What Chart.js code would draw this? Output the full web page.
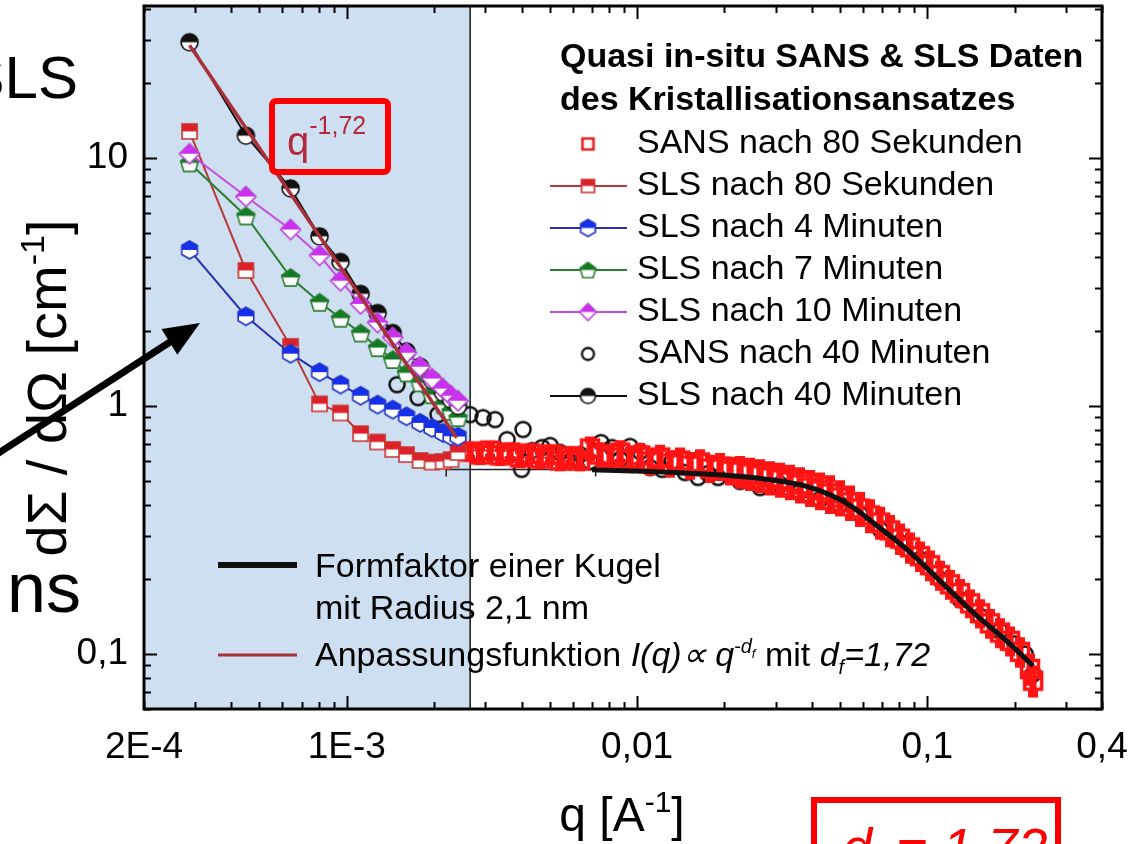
<!DOCTYPE html>
<html>
<head>
<meta charset="utf-8">
<script src="https://cdn.jsdelivr.net/npm/chart.js@4.4.1/dist/chart.umd.min.js"></script>
<style>
  html, body { margin: 0; padding: 0; background: #fff; }
  body { width: 1137px; height: 844px; overflow: hidden; position: relative; }
  #c { position: absolute; left: 0; top: 0; }
  #ov { position: absolute; left: 0; top: 0; pointer-events: none; }
</style>
</head>
<body>
<canvas id="c" width="1137" height="844"></canvas>
<svg id="ov" width="1137" height="844" font-family="Liberation Sans, Arial, sans-serif">
  <!-- slide text around the figure -->
  <text x="78" y="98" font-size="60" text-anchor="end">SLS</text>
  <text x="81" y="612" font-size="70" text-anchor="end">ns</text>
  <!-- arrow pointing into the SLS range -->
  <line x1="-6" y1="456" x2="170" y2="342" stroke="#000" stroke-width="7"/>
  <polygon points="200,323 161.5,329.1 177.3,354.7" fill="#000"/>
  <!-- axis titles -->
  <text transform="translate(66,388) rotate(-90)" text-anchor="middle" font-size="56">dΣ / dΩ [cm<tspan font-size="34" dy="-22">-1</tspan><tspan dy="22">]</tspan></text>
  <text x="622" y="831" text-anchor="middle" font-size="48">q [A<tspan font-size="30" dy="-19">-1</tspan><tspan dy="19">]</tspan></text>
  <!-- slope annotation -->
  <rect x="272" y="101" width="116" height="71" rx="4" fill="none" stroke="#ff0000" stroke-width="6"/>
  <text x="287" y="155" font-size="40" fill="#b3283a">q<tspan font-size="25" dy="-21">-1,72</tspan></text>
  <!-- fractal dimension box -->
  <rect x="814" y="800" width="244" height="80" fill="none" stroke="#ff0000" stroke-width="6"/>
  <text x="842" y="866" font-size="54" font-style="italic" fill="#ff0000">d<tspan font-size="32" dy="10">f</tspan><tspan dy="-10"> = 1,72</tspan></text>
  <!-- lower legend texts -->
  <g font-size="34">
    <text x="315" y="577">Formfaktor einer Kugel</text>
    <text x="315" y="619">mit Radius 2,1 nm</text>
    <text x="315" y="666">Anpassungsfunktion <tspan font-style="italic">I(q)</tspan><tspan font-style="italic">∝</tspan> <tspan font-style="italic">q</tspan><tspan font-style="italic" font-size="20" dy="-13">-d</tspan><tspan font-style="italic" font-size="13" dy="5">f</tspan><tspan dy="8"> mit </tspan><tspan font-style="italic">d</tspan><tspan font-style="italic" font-size="20" dy="8">f</tspan><tspan font-style="italic" dy="-8">=1,72</tspan></text>
  </g>
</svg>
<script>
// ---------------- data ----------------
// SLS scattering vectors (1/A) shared by all SLS runs
const slsQ = [2.87e-4, 4.49e-4, 6.40e-4, 8.05e-4, 9.51e-4, 1.115e-3, 1.276e-3, 1.439e-3, 1.606e-3, 1.788e-3, 1.966e-3, 2.145e-3, 2.286e-3, 2.416e-3];
const sls80s   = [12.8, 3.52, 1.74, 1.02, 0.937, 0.774, 0.716, 0.668, 0.637, 0.603, 0.594, 0.597, 0.608, 0.649];
const sls4min  = [4.26, 2.30, 1.625, 1.369, 1.22, 1.10, 1.013, 0.967, 0.909, 0.855, 0.816, 0.779, 0.755, 0.753];
const sls7min  = [9.55, 5.84, 3.30, 2.62, 2.26, 1.97, 1.72, 1.54, 1.36, 1.24, 1.11, 1.01, 0.952, 0.898];
const sls10min = [10.4, 6.99, 5.15, 4.05, 3.20, 2.58, 2.17, 1.89, 1.64, 1.44, 1.29, 1.175, 1.10, 1.05];
const sls40min = [29.3, 12.3, 7.54, 4.83, 3.81, 2.83, 2.37, 1.97, 1.66, 1.44, 1.27, 1.13, 1.06, 1.00];

// SANS after 80 s
const sans80Q = [2.658e-3, 2.877e-3, 3.115e-3, 3.373e-3, 3.651e-3, 3.953e-3, 4.280e-3, 4.633e-3, 5.016e-3, 5.429e-3,
  5.877e-3, 6.362e-3, 6.887e-3, 7.456e-3, 8.071e-3, 8.738e-3, 9.459e-3, 0.01024, 0.01109, 0.01200,
  0.01299, 0.01406, 0.01523, 0.01648, 0.01784, 0.01932, 0.02091, 0.02264, 0.02451, 0.02653,
  0.02872, 0.03109, 0.03366, 0.03644, 0.03945, 0.04271, 0.04624, 0.05005, 0.05419, 0.05866,
  0.0635, 0.06876, 0.07443, 0.08057, 0.08722, 0.09443, 0.10222, 0.11066, 0.11980, 0.12969,
  0.14040, 0.15199, 0.16453, 0.17812, 0.19283, 0.20874, 0.22598, 0.2315];
const sans80I = [0.655, 0.637, 0.661, 0.632, 0.649, 0.620, 0.643, 0.614, 0.637, 0.603,
  0.626, 0.603, 0.674, 0.637, 0.620, 0.649, 0.609, 0.632, 0.597, 0.620,
  0.586, 0.603, 0.576, 0.592, 0.560, 0.570, 0.549, 0.544, 0.534, 0.525,
  0.515, 0.506, 0.496, 0.483, 0.469, 0.457, 0.444, 0.428, 0.409, 0.386,
  0.362, 0.339, 0.315, 0.292, 0.269, 0.248, 0.228, 0.208, 0.191, 0.176,
  0.160, 0.146, 0.133, 0.122, 0.113, 0.102, 0.087, 0.078];
const sans80Err = [0.04, 0.04, 0.04, 0.04, 0.04, 0.04, 0.04, 0.04, 0.04, 0.04,
  0.04, 0.04, 0.055, 0.055, 0.055, 0.055, 0.055, 0.055, 0.055, 0.055,
  0.055, 0.055, 0.055, 0.055, 0.055, 0.055, 0.055, 0.065, 0.065, 0.065,
  0.065, 0.065, 0.065, 0.065, 0.065, 0.065, 0.065, 0.058, 0.054, 0.05,
  0.045, 0.041, 0.037, 0.033, 0.03, 0.027, 0.025, 0.022, 0.02, 0.018,
  0.016, 0.015, 0.014, 0.013, 0.012, 0.011, 0.01, 0.009];
// horizontal (resolution) bars on the first SANS points
const sans80XIdx = [2, 5];
const sans80XLo = [2.3e-3, 2.8e-3];
const sans80XHi = [5.5e-3, 5.6e-3];

// SANS after 40 min
const sans40Q = [1.489e-3, 1.759e-3, 2.060e-3, 2.658e-3, 2.946e-3, 3.241e-3, 3.565e-3, 4.047e-3, 3.859e-3, 4.346e-3,
  4.707e-3, 5.016e-3, 5.429e-3, 5.877e-3, 6.362e-3, 6.887e-3, 7.515e-3, 8.2e-3, 8.738e-3, 9.459e-3,
  0.01024, 0.01109, 0.01219, 0.01320, 0.01463, 0.01622, 0.01756, 0.01901, 0.02264, 0.02653,
  0.03111, 0.03645, 0.04272, 0.05006, 0.0587, 0.0688, 0.0806, 0.0944, 0.1107, 0.1297,
  0.152, 0.1781, 0.2007, 0.2173, 0.2315, 4.0e-3];
const sans40I = [1.219, 1.081, 0.923, 0.923, 0.898, 0.882, 0.732, 0.804, 0.649, 0.661,
  0.680, 0.693, 0.649, 0.597, 0.637, 0.597, 0.712, 0.680, 0.609, 0.687,
  0.655, 0.565, 0.555, 0.597, 0.539, 0.515, 0.534, 0.515, 0.496, 0.469,
  0.483, 0.452, 0.420, 0.401, 0.366, 0.318, 0.282, 0.241, 0.200, 0.166,
  0.142, 0.124, 0.110, 0.100, 0.083, 0.555];
const sans40XIdx = [45];
const sans40XLo = [2.2e-3];
const sans40XHi = [7.2e-3];

// sphere form factor, R = 2.1 nm
const formQ = [0.007, 0.01, 0.0227, 0.030, 0.0384, 0.05, 0.0575, 0.065, 0.085, 0.1107, 0.1439, 0.188, 0.2315];
const formI = [0.553, 0.547, 0.520, 0.501, 0.474, 0.420, 0.379, 0.339, 0.264, 0.197, 0.147, 0.1126, 0.0896];

// power-law fit I(q) ~ q^-1.72 (end points)
const fitQ = [2.87e-4, 2.39e-3];
const fitI = [28.5, 0.744];

// q-range covered by SLS (shaded)
const slsRange = [2e-4, 2.66e-3];

// axes
const xTickValues = [2e-4, 1e-3, 0.01, 0.1, 0.4];
const xTickLabels = ['2E-4', '1E-3', '0,01', '0,1', '0,4'];
const yTickValues = [0.1, 1, 10];
const yTickLabels = ['0,1', '1', '10'];

const legendTitle = ['Quasi in-situ SANS & SLS Daten', 'des Kristallisationsansatzes'];
const legendLabels = ['SANS nach 80 Sekunden', 'SLS nach 80 Sekunden', 'SLS nach 4 Minuten',
  'SLS nach 7 Minuten', 'SLS nach 10 Minuten', 'SANS nach 40 Minuten', 'SLS nach 40 Minuten'];

// ---------------- styling helpers ----------------
const FONT = '"Liberation Sans", Arial, sans-serif';

function shapePath(g, shape, cx, cy, r) {
  g.beginPath();
  if (shape === 'square') {
    g.rect(cx - r, cy - r, 2 * r, 2 * r);
  } else if (shape === 'circle') {
    g.arc(cx, cy, r, 0, Math.PI * 2);
  } else {
    const n = shape === 'hexagon' ? 6 : shape === 'pentagon' ? 5 : 4;
    const dy = shape === 'pentagon' ? r * 0.1 : 0;
    for (let k = 0; k < n; k++) {
      const a = -Math.PI / 2 + k * 2 * Math.PI / n;
      const px = cx + r * Math.cos(a), py = cy + dy + r * Math.sin(a);
      if (k === 0) g.moveTo(px, py); else g.lineTo(px, py);
    }
    g.closePath();
  }
}

// marker image: optional white body with coloured upper half, coloured outline
function marker(shape, r, stroke, fill, lw) {
  const s = Math.ceil(2 * r + lw * 2 + 4);
  const c = document.createElement('canvas');
  c.width = s; c.height = s;
  const g = c.getContext('2d');
  const cx = s / 2, cy = s / 2;
  if (fill) {
    shapePath(g, shape, cx, cy, r);
    g.fillStyle = '#ffffff';
    g.fill();
    g.save();
    g.beginPath();
    g.rect(0, 0, s, cy);
    g.clip();
    shapePath(g, shape, cx, cy, r);
    g.fillStyle = fill;
    g.fill();
    g.restore();
  }
  shapePath(g, shape, cx, cy, r);
  g.lineWidth = lw;
  g.strokeStyle = stroke;
  g.stroke();
  return c;
}

const pts = (q, v) => q.map((x, i) => ({ x: x, y: v[i] }));

const COL = {
  sans80: '#ff1414',
  red: '#b8393a', redFill: '#dc2228', redEdge: '#c8312f',
  blue: '#2633aa', blueFill: '#1430ea', blueEdge: '#2033c8',
  green: '#2b7d33', greenFill: '#137a24', greenEdge: '#2d7f35',
  mag: '#c64ae0', magFill: '#cc2ef2', magEdge: '#b843d6',
  black: '#111111',
  fit: '#a92f3a',
  shade: '#cddff0'
};

const slsSet = (label, data, line, shape, r, edge, fill, order, legR) => ({
  label: label, data: pts(slsQ, data), showLine: true,
  borderColor: line, borderWidth: 2, backgroundColor: fill,
  pointStyle: marker(shape, r, edge, fill, 1.6), order: order,
  legendMarker: marker(shape, legR, edge, fill, 1.6)
});

const datasets = [
  { label: 'Anpassungsfunktion', data: pts(fitQ, fitI), showLine: true, borderColor: COL.fit,
    borderWidth: 3.5, pointRadius: 0, order: 0 },
  { label: 'Formfaktor', data: pts(formQ, formI), showLine: true, borderColor: COL.black,
    borderWidth: 5, pointRadius: 0, cubicInterpolationMode: 'monotone', order: 1 },
  slsSet('SLS nach 10 Minuten', sls10min, COL.mag, 'diamond', 10, COL.magEdge, COL.magFill, 2, 8.5),
  slsSet('SLS nach 40 Minuten', sls40min, COL.black, 'circle', 8.5, COL.black, COL.black, 3, 7.5),
  slsSet('SLS nach 7 Minuten', sls7min, COL.green, 'pentagon', 9.5, COL.greenEdge, COL.greenFill, 4, 8.5),
  slsSet('SLS nach 4 Minuten', sls4min, COL.blue, 'hexagon', 9, COL.blueEdge, COL.blueFill, 5, 8.5),
  slsSet('SLS nach 80 Sekunden', sls80s, COL.red, 'square', 7.5, COL.redEdge, COL.redFill, 6, 6.5),
  { label: 'SANS nach 80 Sekunden', data: pts(sans80Q, sans80I), showLine: false,
    pointStyle: marker('square', 8.5, COL.sans80, null, 3.5), errColor: COL.sans80, errWidth: 7,
    yErr: sans80Err, xBars: { idx: sans80XIdx, lo: sans80XLo, hi: sans80XHi },
    legendMarker: marker('square', 5.5, '#e02020', null, 2.6), order: 7 },
  { label: 'SANS nach 40 Minuten', data: pts(sans40Q, sans40I), showLine: false,
    pointStyle: marker('circle', 7.5, COL.black, null, 2.5), errColor: '#222',
    xBars: { idx: sans40XIdx, lo: sans40XLo, hi: sans40XHi },
    legendMarker: marker('circle', 6, COL.black, null, 2.3), order: 8 }
];

// ---------------- plugins ----------------
const shadePlugin = {
  id: 'slsShade',
  beforeDatasetsDraw(chart) {
    const { ctx, chartArea: a, scales: { x } } = chart;
    const x0 = x.getPixelForValue(slsRange[0]);
    const x1 = x.getPixelForValue(slsRange[1]);
    ctx.save();
    ctx.fillStyle = COL.shade;
    ctx.fillRect(x0, a.top, x1 - x0, a.bottom - a.top);
    ctx.strokeStyle = '#222';
    ctx.lineWidth = 1.6;
    ctx.beginPath();
    ctx.moveTo(x1, a.top);
    ctx.lineTo(x1, a.bottom);
    ctx.stroke();
    ctx.restore();
  }
};

const errorBarPlugin = {
  id: 'errorBars',
  beforeDatasetDraw(chart, args) {
    const ds = chart.data.datasets[args.index];
    const { ctx, scales: { x, y } } = chart;
    ctx.save();
    ctx.strokeStyle = ds.errColor || '#000';
    if (ds.xBars) {
      ctx.lineWidth = 1.5;
      ctx.beginPath();
      ds.xBars.idx.forEach((j, n) => {
        const py = args.meta.data[j].y;
        const xl = x.getPixelForValue(ds.xBars.lo[n]);
        const xr = x.getPixelForValue(ds.xBars.hi[n]);
        ctx.moveTo(xl, py); ctx.lineTo(xr, py);
        ctx.moveTo(xl, py - 7); ctx.lineTo(xl, py + 7);
        ctx.moveTo(xr, py - 7); ctx.lineTo(xr, py + 7);
      });
      ctx.stroke();
    }
    if (ds.yErr) {
      ctx.lineWidth = ds.errWidth || 2;
      ctx.beginPath();
      args.meta.data.forEach((p, j) => {
        const v = ds.data[j].y, e = ds.yErr[j];
        const yt = y.getPixelForValue(v + e);
        const yb = y.getPixelForValue(v - e);
        ctx.moveTo(p.x, yt); ctx.lineTo(p.x, yb);
        ctx.moveTo(p.x - 5, yt); ctx.lineTo(p.x + 5, yt);
        ctx.moveTo(p.x - 5, yb); ctx.lineTo(p.x + 5, yb);
      });
      ctx.stroke();
    }
    ctx.restore();
  }
};

function minorValues(lo, hi) {
  const out = [];
  for (let e = Math.floor(Math.log10(lo)); e <= Math.ceil(Math.log10(hi)); e++) {
    for (let m = 1; m <= 9; m++) {
      const v = m * Math.pow(10, e);
      if (v >= lo * 0.999 && v <= hi * 1.001) out.push({ v: v, major: m === 1 });
    }
  }
  return out;
}

const framePlugin = {
  id: 'frameTicks',
  afterDatasetsDraw(chart) {
    const { ctx, chartArea: a, scales: { x, y } } = chart;
    ctx.save();
    ctx.strokeStyle = '#000';
    ctx.lineWidth = 2;
    ctx.beginPath();
    minorValues(x.min, x.max).forEach(t => {
      const px = Math.round(x.getPixelForValue(t.v)) + 0.5;
      const L = t.major ? 13 : 7;
      ctx.moveTo(px, a.bottom); ctx.lineTo(px, a.bottom - L);
      ctx.moveTo(px, a.top); ctx.lineTo(px, a.top + L);
    });
    minorValues(y.min, y.max).forEach(t => {
      const py = Math.round(y.getPixelForValue(t.v)) + 0.5;
      const L = t.major ? 13 : 7;
      ctx.moveTo(a.left, py); ctx.lineTo(a.left + L, py);
      ctx.moveTo(a.right, py); ctx.lineTo(a.right - L, py);
    });
    ctx.stroke();
    ctx.lineWidth = 3;
    ctx.strokeRect(a.left, a.top, a.right - a.left, a.bottom - a.top);
    ctx.restore();
  }
};

const legendPlugin = {
  id: 'legendBlocks',
  afterDraw(chart) {
    const ctx = chart.ctx;
    const sets = chart.data.datasets;
    ctx.save();
    ctx.fillStyle = '#000';
    ctx.textBaseline = 'middle';
    ctx.font = 'bold 34px ' + FONT;
    legendTitle.forEach((t, i) => ctx.fillText(t, 560, 58 + 43 * i));
    ctx.font = '34px ' + FONT;
    legendLabels.forEach((t, i) => {
      const yy = 144 + 42 * i;
      const ds = sets.find(d => d.label === t);
      if (ds.showLine) {
        ctx.strokeStyle = ds.borderColor;
        ctx.lineWidth = 2;
        ctx.beginPath();
        ctx.moveTo(550, yy); ctx.lineTo(627, yy);
        ctx.stroke();
      }
      const m = ds.legendMarker;
      ctx.drawImage(m, 588 - m.width / 2, yy - m.height / 2);
      ctx.fillText(t, 637, yy);
    });
    // lower legend line samples
    const ff = sets.find(d => d.label === 'Formfaktor');
    const fit = sets.find(d => d.label === 'Anpassungsfunktion');
    ctx.lineWidth = 6;
    ctx.strokeStyle = ff.borderColor;
    ctx.beginPath(); ctx.moveTo(218, 565); ctx.lineTo(297, 565); ctx.stroke();
    ctx.lineWidth = 3;
    ctx.strokeStyle = fit.borderColor;
    ctx.beginPath(); ctx.moveTo(218, 655); ctx.lineTo(297, 655); ctx.stroke();
    ctx.restore();
  }
};

// ---------------- chart ----------------
new Chart(document.getElementById('c'), {
  type: 'scatter',
  data: { datasets: datasets },
  options: {
    responsive: false,
    animation: false,
    devicePixelRatio: 1,
    layout: { padding: { left: 0, top: 5, right: 35, bottom: 0 } },
    plugins: { legend: { display: false }, tooltip: { enabled: false } },
    scales: {
      x: {
        type: 'logarithmic', min: 2e-4, max: 0.4,
        afterBuildTicks: s => { s.ticks = xTickValues.map(v => ({ value: v })); },
        afterFit: s => { s.height = 135; s.paddingLeft = 0; s.paddingRight = 0; },
        ticks: { callback: (v, i) => xTickLabels[i], autoSkip: false, maxRotation: 0,
                 font: { family: FONT, size: 37 }, color: '#000', padding: 17 },
        grid: { display: false, drawTicks: false },
        border: { display: false }
      },
      y: {
        type: 'logarithmic', min: 0.06, max: 41,
        afterBuildTicks: s => { s.ticks = yTickValues.map(v => ({ value: v })); },
        afterFit: s => { s.width = 144; s.paddingTop = 0; s.paddingBottom = 0; },
        ticks: { callback: (v, i) => yTickLabels[i], autoSkip: false,
                 font: { family: FONT, size: 37 }, color: '#000', padding: 16 },
        grid: { display: false, drawTicks: false },
        border: { display: false }
      }
    }
  },
  plugins: [shadePlugin, errorBarPlugin, framePlugin, legendPlugin]
});
</script>
</body>
</html>
